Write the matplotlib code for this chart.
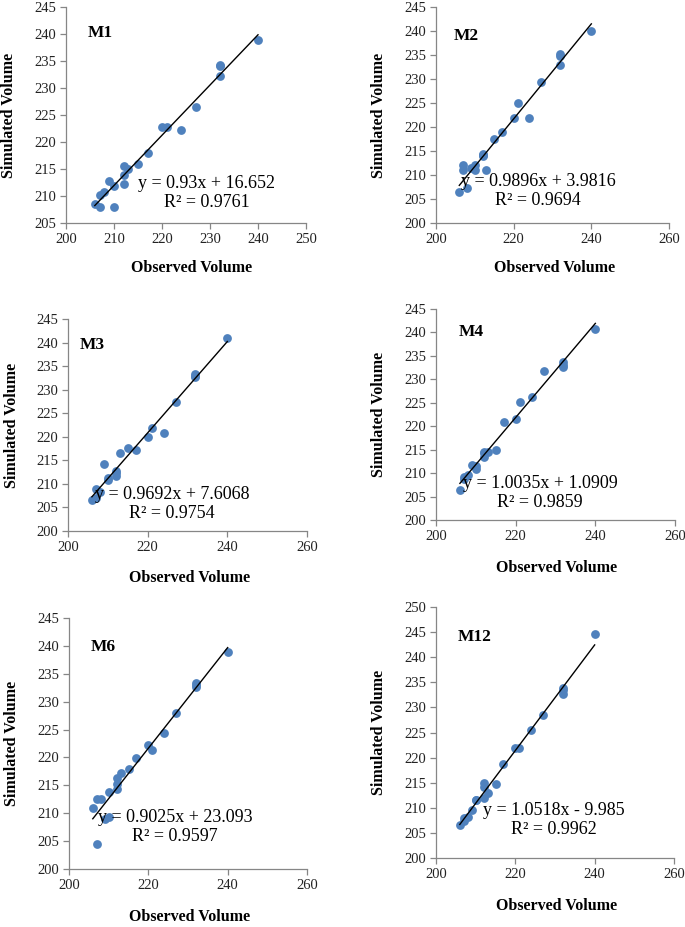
import numpy as np
import matplotlib.pyplot as plt

plt.rcParams['font.family'] = ['Liberation Serif', 'DejaVu Serif']

# observed volumes (same for every model)
observed = [206, 207, 207, 208, 209, 210, 210, 212, 212, 212, 213,
            215, 217, 220, 221, 224, 227, 232, 232, 232, 240]

sim_m1 = [208.6, 208.0, 210.1, 210.7, 212.7, 211.9, 208.0, 215.5, 213.8, 212.3, 215.0,
          215.9, 218.0, 222.7, 222.7, 222.2, 226.5, 234.3, 234.0, 232.3, 238.8]
sim_m2 = [206.5, 212.0, 211.1, 207.2, 211.5, 212.0, 211.1, 214.2, 214.0, 214.3, 211.1,
          217.5, 218.9, 221.9, 225.0, 221.9, 229.3, 235.3, 234.7, 233.0, 240.1]
sim_m3 = [206.5, 208.9, 206.9, 208.3, 214.3, 211.3, 210.8, 212.7, 211.6, 212.3, 216.6,
          217.7, 217.2, 219.9, 221.9, 220.9, 227.3, 233.3, 232.6, 233.0, 240.9]
sim_m4 = [206.4, 208.7, 209.2, 209.5, 211.7, 211.6, 210.8, 214.4, 213.5, 214.2, 214.4,
          214.9, 221.0, 221.6, 225.1, 226.3, 231.8, 233.6, 232.6, 233.1, 240.7]
sim_m6 = [210.9, 212.6, 204.5, 212.5, 208.9, 213.8, 209.4, 216.3, 215.3, 214.3, 217.3,
          217.9, 219.9, 222.2, 221.3, 224.3, 227.9, 233.4, 232.7, 233.0, 238.9]
sim_m12 = [206.6, 207.9, 207.3, 208.1, 209.5, 211.5, 211.6, 215.0, 214.2, 211.9, 213.0,
           214.8, 218.7, 221.9, 222.0, 225.5, 228.5, 233.8, 232.7, 233.4, 244.6]

names = ['M1', 'M2', 'M3', 'M4', 'M6', 'M12']
sims = [sim_m1, sim_m2, sim_m3, sim_m4, sim_m6, sim_m12]
slopes = [0.93, 0.9896, 0.9692, 1.0035, 0.9025, 1.0518]
intercepts = [16.652, 3.9816, 7.6068, 1.0909, 23.093, -9.985]
eq_texts = ['y = 0.93x + 16.652', 'y = 0.9896x + 3.9816', 'y = 0.9692x + 7.6068',
            'y = 1.0035x + 1.0909', 'y = 0.9025x + 23.093', 'y = 1.0518x - 9.985']
r2_texts = ['R² = 0.9761', 'R² = 0.9694', 'R² = 0.9754',
            'R² = 0.9859', 'R² = 0.9597', 'R² = 0.9962']
xlims = [(200, 250), (200, 260), (200, 260), (200, 260), (200, 260), (200, 260)]
xsteps = [10, 20, 20, 20, 20, 20]
ylims = [(205, 245), (200, 245), (200, 245), (200, 245), (200, 245), (200, 250)]

W, H = 685, 927
# layout in pixels: axes box (left, top, right, bottom), title pos, equation pos, label pos
boxes = [(66, 7, 306, 223), (436, 7, 669, 223), (68, 319, 307, 531),
         (436, 309, 675, 520), (69, 618, 307, 869), (436, 607, 674, 858)]
title_pos = [(88, 33), (454, 36), (80, 345), (459, 332), (91, 647), (458, 637)]
eq_pos = [(207, 193), (538, 191), (172, 504), (540, 493), (175, 827), (554, 820)]
xlab_pos = [(192, 268), (555, 268), (190, 578), (557, 568), (190, 917), (557, 906)]
ylab_x = [9, 379, 12, 379, 12, 379]

blue = '#4F81BD'
grey = '#868686'

fig = plt.figure(figsize=(W / 100, H / 100), dpi=100)

for i in range(6):
    l, t, r, b = boxes[i]
    ax = fig.add_axes([l / W, 1 - b / H, (r - l) / W, (b - t) / H])
    x = np.array(observed)
    y = np.array(sims[i])
    ax.scatter(x, y, s=40, color=blue, zorder=3, linewidths=0)
    xx = np.array([x.min(), x.max()])
    ax.plot(xx, slopes[i] * xx + intercepts[i], color='black', lw=1.0, zorder=4)

    ax.set_xlim(*xlims[i])
    ax.set_ylim(*ylims[i])
    ax.set_xticks(np.arange(xlims[i][0], xlims[i][1] + 1, xsteps[i]))
    ax.set_yticks(np.arange(ylims[i][0], ylims[i][1] + 1, 5))
    for s in ['top', 'right']:
        ax.spines[s].set_visible(False)
    for s in ['left', 'bottom']:
        ax.spines[s].set_color(grey)
        ax.spines[s].set_linewidth(0.9)
    ax.tick_params(direction='out', length=4, width=0.9, color=grey,
                   labelsize=10.5, labelcolor='#222222', pad=3)

    ax.set_xlabel('Observed Volume', fontsize=11.5, fontweight='bold')
    ax.set_ylabel('Simulated Volume', fontsize=11.5, fontweight='bold')
    xl, yl = xlab_pos[i]
    ax.xaxis.set_label_coords((xl - l) / (r - l), -(yl - b) / (b - t))
    ax.yaxis.set_label_coords((ylab_x[i] - l) / (r - l), 0.5)
    ax.xaxis.label.set_va('center')
    ax.yaxis.label.set_va('center')

    tx, ty = title_pos[i]
    fig.text(tx / W, 1 - ty / H, names[i], fontsize=12.5, fontweight='bold',
             ha='left', va='center')
    ex, ey = eq_pos[i]
    fig.text(ex / W, 1 - ey / H, eq_texts[i] + '\n' + r2_texts[i], fontsize=13,
             ha='center', va='center', multialignment='center', linespacing=1.1,
             zorder=5)

fig.savefig('out.png', dpi=100)
